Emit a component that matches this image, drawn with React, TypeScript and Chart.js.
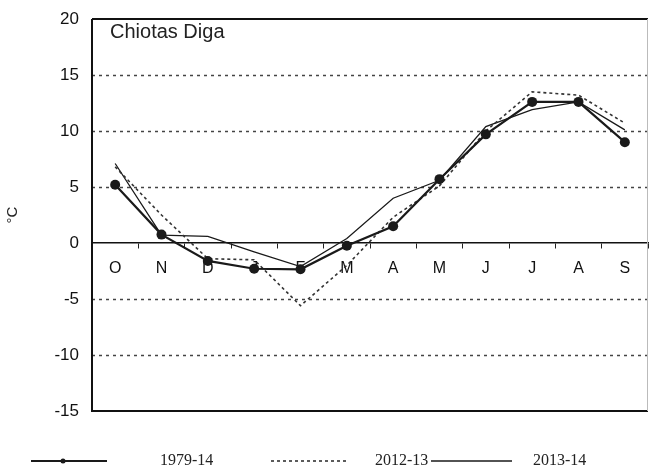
import React, { useEffect, useRef } from "react";
import { Chart, registerables } from "chart.js";

Chart.register(...registerables);

const months = ["O", "N", "D", "J", "F", "M", "A", "M", "J", "J", "A", "S"];
const series1979_14 = [5.2, 0.75, -1.6, -2.3, -2.35, -0.25, 1.5, 5.7, 9.7, 12.6, 12.6, 9.0];
const series2012_13 = [6.8, 2.5, -1.4, -1.5, -5.6, -2.0, 2.3, 5.1, 10.0, 13.5, 13.2, 10.7];
const series2013_14 = [7.1, 0.7, 0.6, -0.8, -2.1, 0.4, 4.0, 5.6, 10.4, 11.9, 12.6, 10.1];
const yTicks = [-15, -10, -5, 0, 5, 10, 15, 20];
const seriesNames = ["1979-14", "2012-13", "2013-14"];
const stationName = "Chiotas Diga";
const yAxisTitle = "°C";

const SANS = "'Liberation Sans', Arial, sans-serif";
const SERIF = "'Liberation Serif', 'Times New Roman', serif";

const backgroundPlugin = {
  id: "whiteBackground",
  beforeDraw(chart: any) {
    const { ctx, width, height } = chart;
    ctx.save();
    ctx.fillStyle = "#ffffff";
    ctx.fillRect(0, 0, width, height);
    ctx.restore();
  },
};

const gridPlugin = {
  id: "dottedGrid",
  beforeDatasetsDraw(chart: any) {
    const { ctx, chartArea } = chart;
    const y = chart.scales.y;
    ctx.save();
    ctx.strokeStyle = "#444";
    ctx.lineWidth = 1.5;
    ctx.setLineDash([3, 4]);
    yTicks.forEach((v) => {
      if (v === y.min || v === y.max || v === 0) return;
      const py = Math.round(y.getPixelForValue(v)) + 0.5;
      ctx.beginPath();
      ctx.moveTo(chartArea.left, py);
      ctx.lineTo(chartArea.right, py);
      ctx.stroke();
    });
    ctx.setLineDash([]);
    // frame
    ctx.strokeStyle = "#111";
    ctx.lineWidth = 2;
    ctx.beginPath();
    ctx.moveTo(chartArea.left, chartArea.top);
    ctx.lineTo(chartArea.right, chartArea.top);
    ctx.moveTo(chartArea.left, chartArea.top);
    ctx.lineTo(chartArea.left, chartArea.bottom);
    ctx.lineTo(chartArea.right, chartArea.bottom);
    ctx.stroke();
    ctx.strokeStyle = "#bbb";
    ctx.lineWidth = 1;
    ctx.beginPath();
    ctx.moveTo(chartArea.right - 0.5, chartArea.top);
    ctx.lineTo(chartArea.right - 0.5, chartArea.bottom);
    ctx.stroke();
    ctx.restore();
  },
};

const annotationPlugin = {
  id: "stationAndLegend",
  afterDraw(chart: any, _args: any, opts: any) {
    const { ctx, chartArea } = chart;
    ctx.save();
    // station name inside plot
    ctx.fillStyle = "#222";
    ctx.font = `20px ${SANS}`;
    ctx.textAlign = "left";
    ctx.textBaseline = "alphabetic";
    ctx.fillText(stationName, chartArea.left + 18, chartArea.top + 19);

    // legend
    const items = opts.items || [];
    const ly = opts.y;
    chart.data.datasets.forEach((ds: any, i: number) => {
      const it = items[i];
      if (!it) return;
      ctx.strokeStyle = ds.borderColor;
      ctx.lineWidth = ds.legendLineWidth || ds.borderWidth;
      ctx.setLineDash(ds.borderDash || []);
      ctx.beginPath();
      ctx.moveTo(it.x0, ly);
      ctx.lineTo(it.x1, ly);
      ctx.stroke();
      ctx.setLineDash([]);
      if (ds.pointRadius > 0) {
        ctx.fillStyle = ds.pointBackgroundColor;
        ctx.beginPath();
        ctx.arc((it.x0 + it.x1) / 2 - 6, ly, 2.5, 0, Math.PI * 2);
        ctx.fill();
      }
      ctx.fillStyle = "#222";
      ctx.font = `16px ${SERIF}`;
      ctx.textAlign = "left";
      ctx.textBaseline = "middle";
      ctx.fillText(ds.label, it.tx, ly);
    });
    ctx.restore();
  },
};

export default function App() {
  const canvasRef = useRef<HTMLCanvasElement | null>(null);

  useEffect(() => {
    if (!canvasRef.current) return;
    const chart = new Chart(canvasRef.current, {
      type: "line",
      data: {
        labels: months,
        datasets: [
          {
            label: seriesNames[0],
            data: series1979_14,
            borderColor: "#1a1a1a",
            borderWidth: 2.2,
            pointRadius: 5,
            pointBackgroundColor: "#1a1a1a",
            pointBorderColor: "#1a1a1a",
            pointBorderWidth: 0,
            tension: 0,
          },
          {
            label: seriesNames[1],
            data: series2012_13,
            borderColor: "#333",
            borderWidth: 1.6,
            borderDash: [3, 3],
            pointRadius: 0,
            tension: 0,
          },
          {
            label: seriesNames[2],
            data: series2013_14,
            borderColor: "#1a1a1a",
            borderWidth: 1.3,
            pointRadius: 0,
            tension: 0,
          },
        ] as any,
      },
      options: {
        animation: false,
        responsive: true,
        maintainAspectRatio: false,
        layout: { padding: { top: 19, right: 1, bottom: 61, left: 0 } },
        plugins: {
          legend: { display: false },
          tooltip: { enabled: false },
          stationAndLegend: {
            y: 461,
            items: [
              { x0: 31, x1: 107, tx: 160 },
              { x0: 271, x1: 347, tx: 375 },
              { x0: 431, x1: 512, tx: 533 },
            ],
          },
        } as any,
        scales: {
          x: {
            type: "category",
            offset: true,
            position: { y: 0 } as any,
            grid: {
              display: true,
              drawOnChartArea: false,
              drawTicks: true,
              tickLength: 5,
              offset: true,
              color: "#222",
              tickColor: "#222",
            },
            border: { display: true, color: "#111", width: 1.5 },
            ticks: {
              color: "#111",
              font: { family: SANS, size: 16 },
              padding: 11,
              maxRotation: 0,
              autoSkip: false,
            },
          },
          y: {
            min: -15,
            max: 20,
            afterBuildTicks: (s: any) => {
              s.ticks = yTicks.map((v) => ({ value: v }));
            },
            afterFit: (s: any) => {
              s.width = 92;
            },
            grid: {
              display: true,
              drawOnChartArea: false,
              drawTicks: true,
              tickLength: 10,
              tickColor: "rgba(0,0,0,0)",
            },
            border: { display: false },
            ticks: {
              color: "#111",
              font: { family: SANS, size: 17 },
              padding: 3,
            },
            title: {
              display: true,
              text: yAxisTitle,
              color: "#222",
              font: { family: SANS, size: 15 },
              padding: { top: 4, bottom: 4 },
            },
          },
        },
      },
      plugins: [backgroundPlugin, gridPlugin, annotationPlugin],
    });
    return () => chart.destroy();
  }, []);

  return (
    <div style={{ position: "fixed", left: 0, top: 0, width: 653, height: 472, background: "#fff" }}>
      <canvas ref={canvasRef} />
    </div>
  );
}
